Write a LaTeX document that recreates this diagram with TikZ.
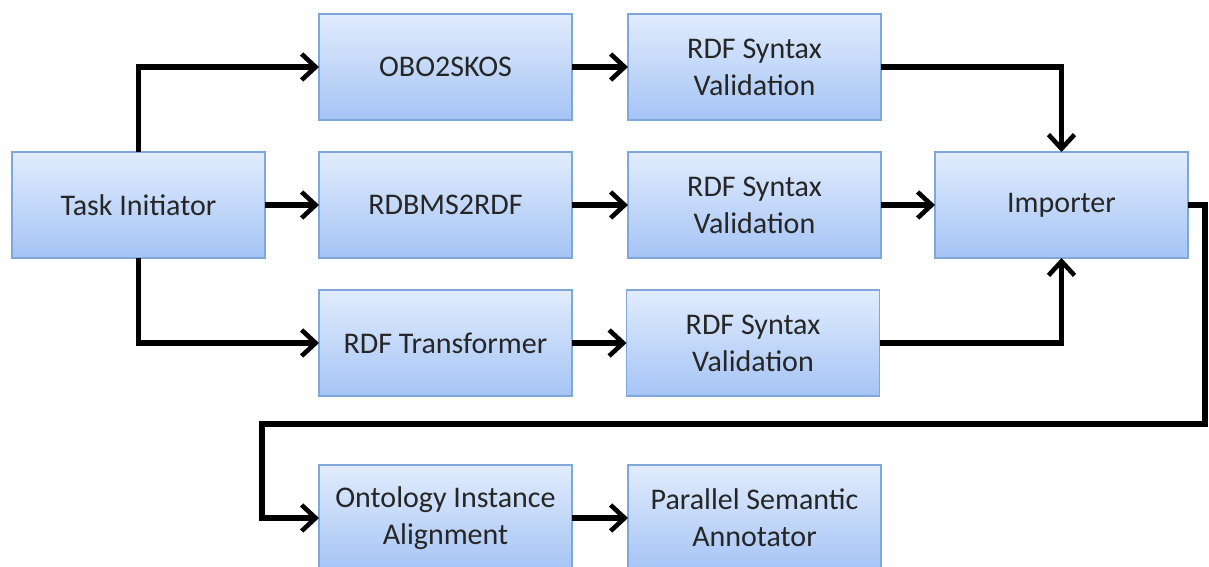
\documentclass[tikz,border=0pt]{standalone}
\usepackage{fontspec}
\setmainfont{Carlito}
\usetikzlibrary{arrows.meta}
\definecolor{boxtop}{HTML}{E1ECFD}
\definecolor{boxbot}{HTML}{A5C4F5}
\definecolor{boxline}{HTML}{7FA7DB}
\definecolor{txt}{HTML}{262626}
\tikzset{
  proc/.style={draw=boxline, line width=0.6pt, top color=boxtop, bottom color=boxbot,
    minimum width=126.5pt, minimum height=53pt, inner sep=2pt, outer sep=0pt,
    align=center, text=txt, font=\fontsize{15}{18.5}\selectfont},
  flow/.style={line width=2.6pt, line join=miter, -{Straight Barb[length=7pt,width=13pt,line width=2.3pt]}}
}
\begin{document}
\begin{tikzpicture}[x=0.5pt,y=-0.5pt]
\useasboundingbox (0,0) rectangle (1209,567);
\clip (0,0) rectangle (1209,567);
\node[proc] (task) at (138.5,205) {Task Initiator};
\node[proc] (obo) at (445.5,67) {OBO2SKOS};
\node[proc] (v1) at (754.5,67) {RDF Syntax\\Validation};
\node[proc] (rdb) at (445.5,205) {RDBMS2RDF};
\node[proc] (v2) at (754.5,205) {RDF Syntax\\Validation};
\node[proc] (imp) at (1061.5,205) {Importer};
\node[proc] (rdft) at (445.5,343) {RDF Transformer};
\node[proc] (v3) at (753,343) {RDF Syntax\\Validation};
\node[proc] (ont) at (445.5,518) {Ontology Instance\\Alignment};
\node[proc] (psa) at (754.5,518) {Parallel Semantic\\Annotator};
\coordinate (r1) at (1205,205);
\coordinate (r2) at (1205,424);
\coordinate (l1) at (262,424);
\coordinate (l2) at (262,518);
\draw[flow] (task.north) |- (obo.west);
\draw[flow] (task.east) -- (rdb.west);
\draw[flow] (task.south) |- (rdft.west);
\draw[flow] (obo.east) -- (v1.west);
\draw[flow] (rdb.east) -- (v2.west);
\draw[flow] (rdft.east) -- (v3.west);
\draw[flow] (v1.east) -| (imp.north);
\draw[flow] (v2.east) -- (imp.west);
\draw[flow] (v3.east) -| (imp.south);
\draw[flow] (imp.east) -- (r1) -- (r2) -- (l1) -- (l2) -- (ont.west);
\draw[flow] (ont.east) -- (psa.west);
\end{tikzpicture}
\end{document}
